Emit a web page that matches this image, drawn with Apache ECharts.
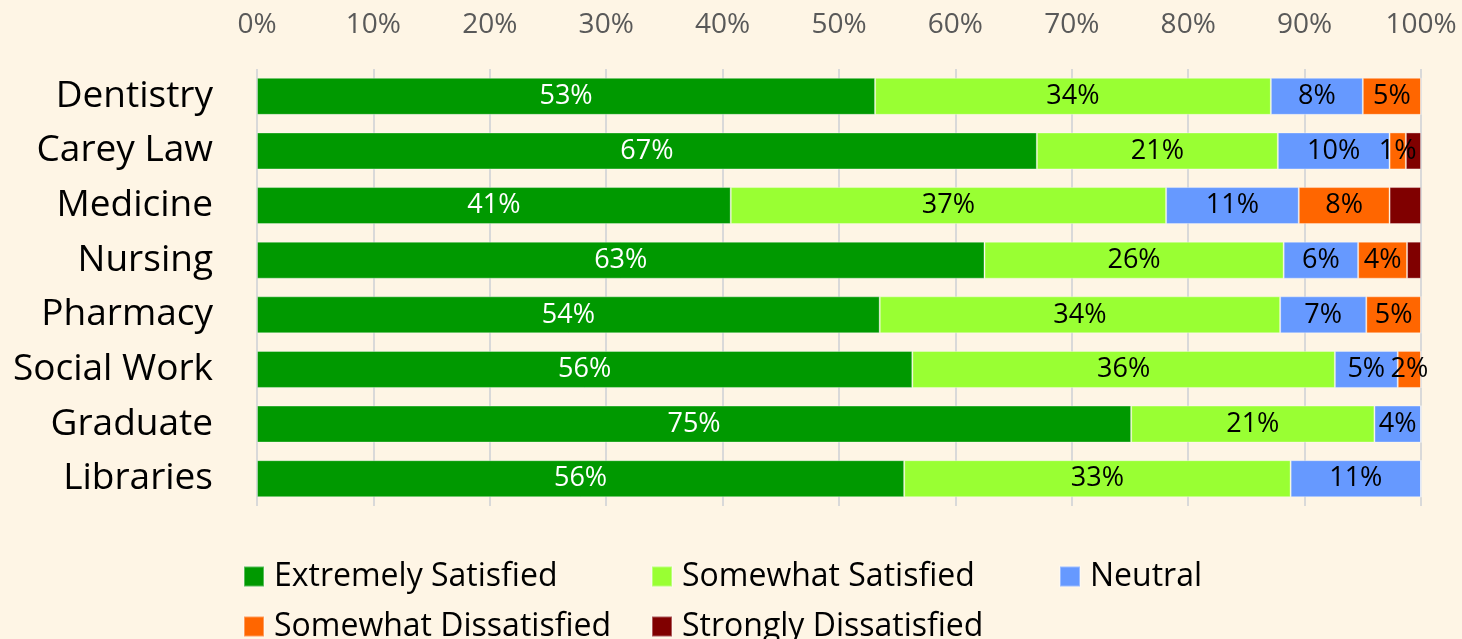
<!DOCTYPE html>
<html>
<head>
<meta charset="utf-8">
<script src="https://cdn.jsdelivr.net/npm/echarts@6/dist/echarts.min.js"></script>
<style>
  html, body { margin: 0; padding: 0; background: #fef5e5; }
  #chart { width: 1462px; height: 639px; }
</style>
</head>
<body>
<div id="chart"></div>
<script>
// schools, top to bottom
const schools = ['Dentistry', 'Carey Law', 'Medicine', 'Nursing', 'Pharmacy', 'Social Work', 'Graduate', 'Libraries']

// percentages per response level
const extremelySatisfied = [53.1, 67.0, 40.7, 62.5, 53.5, 56.3, 75.1, 55.6]
const somewhatSatisfied = [34.0, 20.7, 37.4, 25.7, 34.4, 36.3, 20.9, 33.2]
const neutral = [7.9, 9.6, 11.4, 6.4, 7.4, 5.4, 4.0, 11.2]
const somewhatDissatisfied = [5.0, 1.4, 7.8, 4.2, 4.7, 2.0, 0, 0]
const stronglyDissatisfied = [0, 1.3, 2.7, 1.2, 0, 0, 0, 0]

const xTicks = [0, 10, 20, 30, 40, 50, 60, 70, 80, 90, 100]

const FONT = 'Open Sans'

function seg(name, data, color, labelColor, showLabel) {
  return {
    name,
    type: 'bar',
    stack: 'total',
    barWidth: 37,
    data,
    itemStyle: { color, borderColor: 'rgba(255,255,255,0.35)', borderWidth: 1 },
    label: {
      show: showLabel,
      position: 'inside',
      color: labelColor,
      fontFamily: FONT,
      fontSize: 27,
      formatter: p => (p.value > 0 ? Math.round(p.value) + '%' : '')
    }
  }
}

const chart = echarts.init(document.getElementById('chart'))
chart.setOption({
  backgroundColor: '#fef5e5',
  animation: false,
  grid: { left: 257, right: 41, top: 69, bottom: 133 },
  xAxis: {
    type: 'value',
    position: 'top',
    min: 0,
    max: 100,
    interval: 10,
    axisLine: { show: false },
    axisTick: { show: false },
    axisLabel: {
      color: '#595959',
      fontFamily: FONT,
      fontSize: 28,
      margin: 30,
      formatter: v => (xTicks.includes(v) ? v + '%' : '')
    },
    splitLine: { lineStyle: { color: '#d9d9d9', width: 2 } }
  },
  yAxis: {
    type: 'category',
    inverse: true,
    data: schools,
    axisLine: { show: false },
    axisTick: { show: false },
    axisLabel: { color: '#000', fontFamily: FONT, fontSize: 37, margin: 44 }
  },
  legend: {
    left: 238,
    top: 555,
    width: 1215,
    itemWidth: 20,
    itemHeight: 20,
    itemGap: 17,
    icon: 'rect',
    textStyle: { color: '#000', fontFamily: FONT, fontSize: 32, width: 360, lineHeight: 33, padding: [0, 0, 0, 5] },
    data: ['Extremely Satisfied', 'Somewhat Satisfied', 'Neutral', 'Somewhat Dissatisfied', 'Strongly Dissatisfied']
  },
  series: [
    seg('Extremely Satisfied', extremelySatisfied, '#009900', '#fff', true),
    seg('Somewhat Satisfied', somewhatSatisfied, '#99ff33', '#000', true),
    seg('Neutral', neutral, '#6699ff', '#000', true),
    seg('Somewhat Dissatisfied', somewhatDissatisfied, '#ff6600', '#000', true),
    seg('Strongly Dissatisfied', stronglyDissatisfied, '#800000', '#000', false)
  ]
})
</script>
</body>
</html>
